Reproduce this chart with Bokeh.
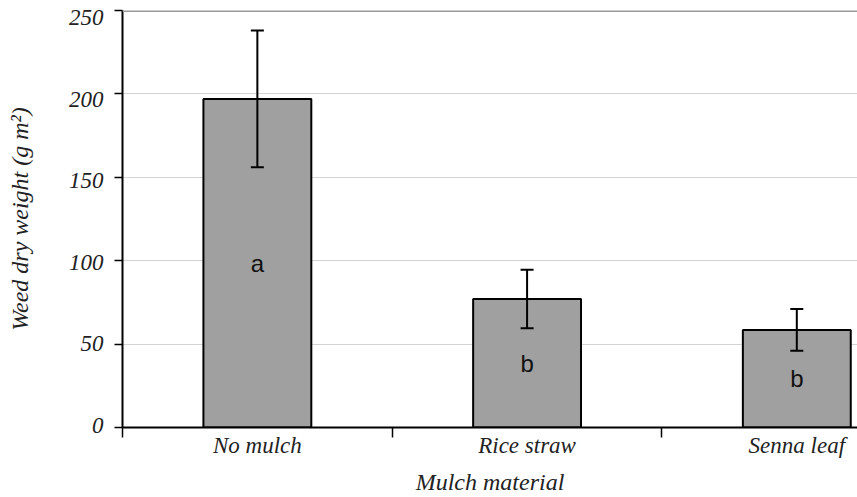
from bokeh.plotting import figure
from bokeh.models import (ColumnDataSource, FixedTicker, Whisker, TeeHead, Span, Range1d,
                          LinearAxis)
from bokeh.core.properties import value
from bokeh.embed import file_html
from bokeh.resources import INLINE

categories = ["No mulch", "Rice straw", "Senna leaf"]
weights = [197.0, 77.0, 58.5]
errors = [41.0, 17.5, 12.5]
letters = ["a", "b", "b"]
y_ticks = [0, 50, 100, 150, 200, 250]

xpos = [i + 0.5 for i in range(len(categories))]
src = ColumnDataSource(dict(
    x=xpos,
    top=weights,
    lower=[w - e for w, e in zip(weights, errors)],
    upper=[w + e for w, e in zip(weights, errors)],
    letter_y=[w * 0.5 for w in weights],
    letter=letters,
))

p = figure(width=857, height=497, output_backend="svg", toolbar_location=None,
           x_range=Range1d(0, 2.725), y_range=Range1d(0, y_ticks[-1]),
           min_border_left=122, min_border_right=0, min_border_top=10, min_border_bottom=70)
p.outline_line_color = None
p.background_fill_color = "white"
p.border_fill_color = "white"

p.xgrid.grid_line_color = None
p.ygrid.ticker = FixedTicker(ticks=y_ticks)
p.ygrid.grid_line_color = "#d4d4d4"
p.ygrid.grid_line_width = 1

p.add_layout(Span(location=y_ticks[-1], dimension="width", line_color="#999999", line_width=3))

p.vbar(x="x", top="top", bottom=0, width=0.4, source=src,
       fill_color="#a0a0a0", line_color="black", line_width=2)

w = Whisker(base="x", lower="lower", upper="upper", source=src, dimension="height",
            line_color="black", line_width=2, level="annotation",
            upper_head=TeeHead(size=13, line_color="black", line_width=2),
            lower_head=TeeHead(size=13, line_color="black", line_width=2))
p.add_layout(w)

p.text(x="x", y="letter_y", text="letter", source=src,
       text_font=value("Liberation Sans"), text_font_size="24px",
       text_align="center", text_baseline="middle", text_color="#111111")

serif = "Liberation Serif"

# y axis: line and ticks only (labels not drawn)
ya = p.yaxis[0]
ya.ticker = FixedTicker(ticks=y_ticks)
ya.axis_line_color = "black"
ya.axis_line_width = 2
ya.major_tick_out = 8
ya.major_tick_in = 0
ya.major_tick_line_width = 1.5
ya.minor_tick_line_color = None
ya.major_label_text_color = None
ya.major_label_standoff = 0

# y tick labels, laid out on a slightly tighter scale as in the original image
p.extra_y_ranges = {"labels": Range1d(-1.2, 254.3)}
la = LinearAxis(y_range_name="labels", ticker=FixedTicker(ticks=y_ticks))
la.axis_line_color = None
la.major_tick_line_color = None
la.minor_tick_line_color = None
la.major_tick_out = 0
la.major_tick_in = 0
la.major_label_text_font = serif
la.major_label_text_font_style = "italic"
la.major_label_text_font_size = "23px"
la.major_label_text_color = "#222222"
la.major_label_standoff = 11
la.axis_label = "Weed dry weight (g m²)"
la.axis_label_text_font = serif
la.axis_label_text_font_style = "italic"
la.axis_label_text_font_size = "24px"
la.axis_label_text_color = "#222222"
la.axis_label_standoff = 33
p.add_layout(la, "left")

# x axis
xa = p.xaxis[0]
xa.ticker = FixedTicker(ticks=xpos, minor_ticks=[float(i) for i in range(len(categories) + 1)])
xa.major_label_overrides = {x: c for x, c in zip(xpos, categories)}
xa.axis_line_color = "black"
xa.axis_line_width = 2
xa.major_tick_out = 0
xa.major_tick_in = 0
xa.major_tick_line_color = None
xa.minor_tick_out = 10
xa.minor_tick_in = 0
xa.minor_tick_line_color = "black"
xa.minor_tick_line_width = 1.5
xa.major_label_text_font = serif
xa.major_label_text_font_style = "italic"
xa.major_label_text_font_size = "23px"
xa.major_label_text_color = "#222222"
xa.major_label_standoff = -5
xa.axis_label = "Mulch material"
xa.axis_label_text_font = serif
xa.axis_label_text_font_style = "italic"
xa.axis_label_text_font_size = "24px"
xa.axis_label_text_color = "#222222"
xa.axis_label_standoff = 8

open("out.html", "w").write(file_html(p, INLINE))
